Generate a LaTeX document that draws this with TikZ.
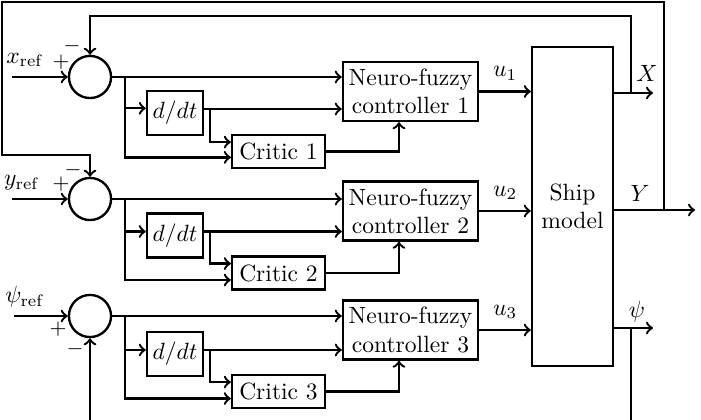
\documentclass[tikz,border=0pt]{standalone}
\usetikzlibrary{calc}
\begin{document}
\begin{tikzpicture}[x=0.425pt, y=-0.425pt, >=to, line width=1pt,
		sum/.style={circle, draw, minimum size=17.9pt, inner sep=0pt},
		block/.style={draw, inner sep=1pt, align=center},
		sign/.style={inner sep=0pt, font=\small}]
	\useasboundingbox (0,0) rectangle (701,420);
	% summing junctions
	\node[sum] (s1) at (90,77) {};
	\node[sum] (s2) at (90,199) {};
	\node[sum] (s3) at (90,316) {};
	% derivative blocks
	\node[block, minimum width=23.8pt, minimum height=18.7pt] (d1) at (175,113) {$d/dt$};
	\node[block, minimum width=23.8pt, minimum height=18.7pt] (d2) at (175,235.5) {$d/dt$};
	\node[block, minimum width=23.8pt, minimum height=18.7pt] (d3) at (175,354) {$d/dt$};
	% critics
	\node[block, minimum width=39.5pt, minimum height=14pt] (c1) at (278.5,151.5) {Critic 1};
	\node[block, minimum width=39.5pt, minimum height=14pt] (c2) at (278.5,273) {Critic 2};
	\node[block, minimum width=39.5pt, minimum height=14pt] (c3) at (278.5,391.5) {Critic 3};
	% controllers
	\node[block, minimum width=57.4pt, minimum height=25.1pt] (n1) at (410.5,91.5) {Neuro-fuzzy\\controller 1};
	\node[block, minimum width=57.4pt, minimum height=25.1pt] (n2) at (410.5,211) {Neuro-fuzzy\\controller 2};
	\node[block, minimum width=57.4pt, minimum height=25.1pt] (n3) at (410.5,330) {Neuro-fuzzy\\controller 3};
	% plant
	\node[block, minimum width=34.4pt, minimum height=135.6pt] (ship) at (572.5,206.5) {Ship\\model};

	% branch points
	\coordinate (b1) at (125,77);
	\coordinate (b2) at (125,199);
	\coordinate (b3) at (125,316);
	\coordinate (e1) at (210,109);
	\coordinate (e2) at (210,231);
	\coordinate (e3) at (210,350);

	% reference inputs
	\draw[->] (12,77) -- (s1.west);
	\draw[->] (12,199) -- (s2.west);
	\draw[->] (14,316) -- (s3.west);
	\node at (25,60) {$x_{\mathrm{ref}}$};
	\node at (22,183) {$y_{\mathrm{ref}}$};
	\node at (25,297) {$\psi_{\mathrm{ref}}$};
	\node[sign] at (61,62) {$+$};
	\node[sign] at (72,46) {$-$};
	\node[sign] at (61,184) {$+$};
	\node[sign] at (73,170) {$-$};
	\node[sign] at (58,329) {$+$};
	\node[sign] at (75,349) {$-$};

	% row 1
	\draw[->] (s1.east) -- (s1.east -| n1.west);
	\draw[->] (b1) |- ([yshift=2pt]d1.west);
	\draw[->] (b1) |- ([yshift=-2.5pt]c1.west);
	\draw[->] ([yshift=1.7pt]d1.east) -- ([yshift=1.7pt]d1.east -| n1.west);
	\draw[->] (e1) |- ([yshift=4pt]c1.west);
	\draw[->] (c1.east) -| ([xshift=-4.9pt]n1.south);
	\draw[->] (n1.east) -- (n1.east -| ship.west) node[midway, above=1pt] {$u_1$};

	% row 2
	\draw[->] (s2.east) -- (s2.east -| n2.west);
	\draw[->] (b2) |- ([yshift=1.7pt]d2.west);
	\draw[->] (b2) |- ([yshift=-3pt]c2.west);
	\draw[->] ([yshift=1.7pt]d2.east) -- ([yshift=1.7pt]d2.east -| n2.west);
	\draw[->] (e2) |- ([yshift=4pt]c2.west);
	\draw[->] (c2.east) -| ([xshift=-4.9pt]n2.south);
	\draw[->] (n2.east) -- (n2.east -| ship.west) node[midway, above=1pt] {$u_2$};

	% row 3
	\draw[->] (s3.east) -- (s3.east -| n3.west);
	\draw[->] (b3) |- ([yshift=1.7pt]d3.west);
	\draw[->] (b3) |- ([yshift=-3pt]c3.west);
	\draw[->] ([yshift=1.7pt]d3.east) -- ([yshift=1.7pt]d3.east -| n3.west);
	\draw[->] (e3) |- ([yshift=4pt]c3.west);
	\draw[->] (c3.east) -| ([xshift=-4.9pt]n3.south);
	\draw[->] (n3.east) -- (n3.east -| ship.west) node[midway, above=1pt] {$u_3$};

	% plant outputs
	\coordinate (xo) at (653,93);
	\coordinate (yo) at (695,210);
	\coordinate (po) at (653,328);
	\draw[->] (ship.east |- xo) -- (xo);
	\draw[->] (ship.east |- yo) -- (yo);
	\draw[->] (ship.east |- po) -- (po);
	\node at (647,73) {$X$};
	\node at (640,193) {$Y$};
	\node at (637,312) {$\psi$};

	% feedback loops
	\coordinate (fx) at (631,93);
	\coordinate (fy) at (664,210);
	\coordinate (fp) at (631,328);
	\draw[->] (fx) -- (631,16) -| (s1.north);
	\draw[->] (fy) |- (2,2) |- (90,155) -- (s2.north);
	\draw[->] (fp) -- (631,428) -| (s3.south);
\end{tikzpicture}
\end{document}
